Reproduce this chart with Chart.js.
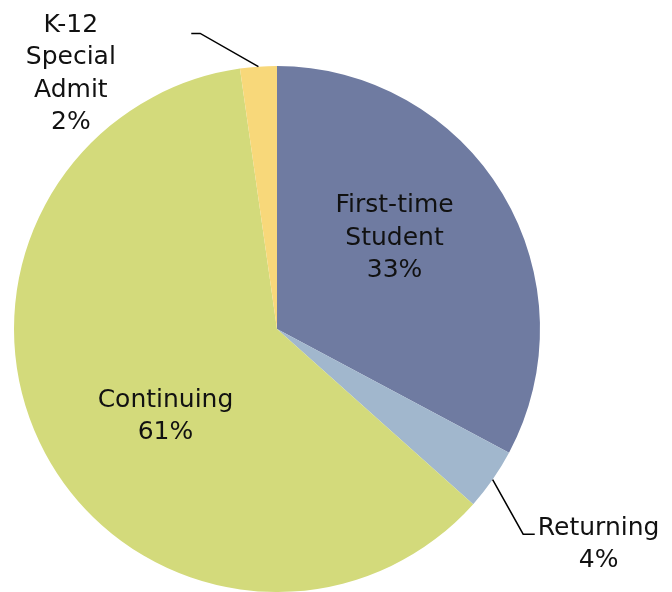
<!DOCTYPE html>
<html>
<head>
<meta charset="utf-8">
<script src="https://cdn.jsdelivr.net/npm/chart.js@4"></script>
<style>
  html, body { margin: 0; padding: 0; background: #ffffff; }
  #wrap { width: 672px; height: 592px; position: relative; }
</style>
</head>
<body>
<div id="wrap"><canvas id="c" width="672" height="592"></canvas></div>
<script>
// ---- data ----
const categories = ["First-time Student", "Returning", "Continuing", "K-12 Special Admit"];
const shares = [32.8, 3.8, 61.15, 2.25];
const labelLines = [["First-time", "Student"], ["Returning"], ["Continuing"], ["K-12", "Special", "Admit"]];

// ---- style ----
const colors = ["#6F7BA1", "#A1B7CD", "#D3DA7B", "#F8D87A"];
// label placement relative to pie center, in units of radius; leader = elbow point (relative) if outside
const labelPlace = [
  { fx: 0.447, fy: -0.345 },
  { fx: 1.223, fy: 0.82, leader: { ex: 0.936, ey: 0.78, hx: 0.98 } },
  { fx: -0.424, fy: 0.333 },
  { fx: -0.784, fy: -0.97, leader: { ex: -0.292, ey: -1.124, hx: -0.326 } }
];
const FONT = '25px "DejaVu Sans", sans-serif';
const LINE_H = 32.5;

const labelPlugin = {
  id: 'pieLabels',
  afterDatasetsDraw(chart) {
    const ctx = chart.ctx;
    const meta = chart.getDatasetMeta(0);
    const total = shares.reduce((a, b) => a + b, 0);
    meta.data.forEach((arc, i) => {
      const cx = arc.x, cy = arc.y, r = arc.outerRadius;
      const p = labelPlace[i];
      const lx = cx + p.fx * r, ly = cy + p.fy * r;
      const pct = Math.round(shares[i] / total * 100) + '%';
      const lines = labelLines[i].concat([pct]);
      ctx.save();
      if (p.leader) {
        const mid = (arc.startAngle + arc.endAngle) / 2;
        const sx = cx + Math.cos(mid) * r, sy = cy + Math.sin(mid) * r;
        const ex = cx + p.leader.ex * r, ey = cy + p.leader.ey * r;
        const hx = cx + p.leader.hx * r;
        ctx.strokeStyle = '#000';
        ctx.lineWidth = 1.5;
        ctx.beginPath();
        ctx.moveTo(sx, sy);
        ctx.lineTo(ex, ey);
        ctx.lineTo(hx, ey);
        ctx.stroke();
      }
      ctx.fillStyle = '#111';
      ctx.font = FONT;
      ctx.textAlign = 'center';
      ctx.textBaseline = 'middle';
      const top = ly - (lines.length - 1) * LINE_H / 2;
      lines.forEach((t, k) => ctx.fillText(t, lx, top + k * LINE_H));
      ctx.restore();
    });
  }
};

new Chart(document.getElementById('c'), {
  type: 'pie',
  data: {
    labels: categories,
    datasets: [{
      data: shares,
      backgroundColor: colors,
      borderWidth: 0
    }]
  },
  options: {
    responsive: false,
    animation: false,
    layout: { padding: { left: 13, right: 131, top: 66, bottom: -2 } },
    plugins: { legend: { display: false }, tooltip: { enabled: false } }
  },
  plugins: [labelPlugin]
});
</script>
</body>
</html>
